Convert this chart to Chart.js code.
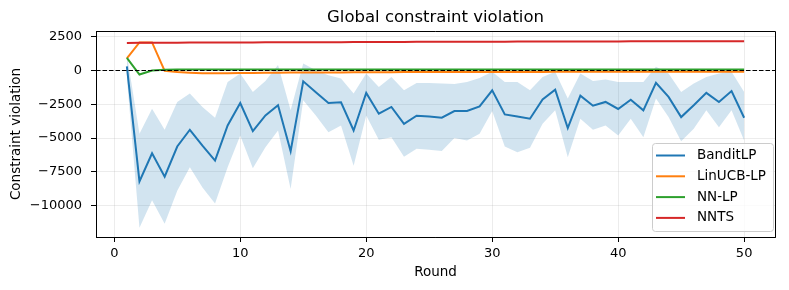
<!DOCTYPE html>
<html>
<head>
<meta charset="utf-8">
<script src="https://cdn.jsdelivr.net/npm/chart.js@4.4.1/dist/chart.umd.min.js"></script>
<style>
  html, body { margin: 0; padding: 0; background: #fff; }
  #wrap { width: 789px; height: 290px; }
</style>
</head>
<body>
<div id="wrap"><canvas id="chart" width="789" height="290"></canvas></div>
<script>
// data
const rounds = [1, 2, 3, 4, 5, 6, 7, 8, 9, 10, 11, 12, 13, 14, 15, 16, 17, 18, 19, 20,
  21, 22, 23, 24, 25, 26, 27, 28, 29, 30, 31, 32, 33, 34, 35, 36, 37, 38, 39, 40,
  41, 42, 43, 44, 45, 46, 47, 48, 49, 50];

const banditLP = [300, -8210, -6130, -7860, -5630, -4390, -5560, -6670, -4070, -2410,
  -4490, -3330, -2580, -5980, -800, -1610, -2410, -2360, -4440, -1660,
  -3200, -2700, -3950, -3350, -3400, -3500, -3000, -3000, -2660, -1470,
  -3250, -3400, -3570, -2140, -1420, -4270, -1870, -2610, -2330, -2850,
  -2160, -2950, -920, -1960, -3450, -2580, -1660, -2330, -1520, -3500];

const banditUpper = [1200, -4690, -2830, -4390, -2330, -1710, -2700, -3500, -850, -220,
  -1590, -770, 400, -2950, 520, 20, -350, -600, -1710, -220,
  -1220, -480, -1470, -920, -920, -970, -1000, -850, -550, -100,
  -850, -850, -1470, -480, -100, -2080, -220, -770, -670, -850,
  -850, -850, 270, -220, -1590, -970, -480, -220, -100, -1590];

const banditLower = [-500, -11640, -9600, -11340, -8900, -7170, -8660, -9850, -7170, -4810,
  -7240, -5680, -4440, -8780, -2210, -3330, -4570, -4070, -7050, -3330,
  -5130, -4940, -6380, -5800, -5870, -5960, -4990, -5190, -4690, -3000,
  -5630, -6050, -5730, -3950, -2950, -6430, -3570, -4390, -4070, -4810,
  -3570, -4940, -2080, -3450, -5240, -4320, -2950, -4200, -2950, -5190];

const linUCB = [890, 2080, 2080, -30, -120, -170, -200, -210, -200, -190,
  -180, -170, -160, -150, -150, -140, -140, -140, -130, -130,
  -130, -130, -120, -120, -120, -120, -120, -110, -110, -110,
  -110, -110, -110, -110, -100, -100, -100, -100, -100, -100,
  -100, -100, -100, -100, -100, -100, -100, -100, -100, -100];

const nnLP = [940, -300, 0, 60, 70, 70, 80, 70, 70, 80,
  70, 70, 80, 70, 70, 70, 80, 70, 70, 70,
  80, 70, 70, 70, 70, 80, 70, 70, 70, 70,
  70, 80, 70, 70, 70, 70, 70, 80, 70, 70,
  70, 70, 70, 70, 80, 70, 70, 70, 70, 70];

const nnts = [2040, 2050, 2055, 2060, 2060, 2065, 2070, 2070, 2075, 2080,
  2080, 2085, 2090, 2090, 2095, 2100, 2100, 2100, 2105, 2110,
  2110, 2115, 2115, 2120, 2120, 2125, 2125, 2130, 2130, 2135,
  2135, 2140, 2140, 2145, 2145, 2150, 2150, 2150, 2155, 2155,
  2160, 2160, 2160, 2165, 2165, 2165, 2170, 2170, 2170, 2170];

const seriesNames = ['BanditLP', 'LinUCB-LP', 'NN-LP', 'NNTS'];
const xTicks = [0, 10, 20, 30, 40, 50];
const yTicks = [2500, 0, -2500, -5000, -7500, -10000];

const colors = ['#1f77b4', '#ff7f0e', '#2ca02c', '#d62728'];
const FONT = "'DejaVu Sans', sans-serif";

function pts(arr) {
  return arr.map((v, i) => ({ x: rounds[i], y: v }));
}

function lineSet(label, arr, color) {
  return {
    label: label, data: pts(arr), borderColor: color, backgroundColor: color,
    borderWidth: 2, pointRadius: 0, tension: 0, fill: false
  };
}

// top/right spines, dashed zero line, legend
const extras = {
  id: 'extras',
  afterDatasetsDraw(chart) {
    const { ctx, chartArea, scales } = chart;
    ctx.save();
    const y0 = scales.y.getPixelForValue(0);
    ctx.strokeStyle = '#000';
    ctx.lineWidth = 1.2;
    ctx.setLineDash([4.5, 2]);
    ctx.beginPath();
    ctx.moveTo(chartArea.left, y0);
    ctx.lineTo(chartArea.right, y0);
    ctx.stroke();
    ctx.setLineDash([]);
    ctx.lineWidth = 1;
    ctx.beginPath();
    ctx.moveTo(chartArea.left, chartArea.top + 0.5);
    ctx.lineTo(chartArea.right + 0.5, chartArea.top + 0.5);
    ctx.lineTo(chartArea.right + 0.5, chartArea.bottom);
    ctx.stroke();

    // legend box
    const w = 121, h = 88;
    const lx = chartArea.right - w - 2, ly = chartArea.bottom - h - 6;
    ctx.fillStyle = 'rgba(255,255,255,0.8)';
    ctx.strokeStyle = '#cccccc';
    ctx.beginPath();
    ctx.roundRect(lx + 0.5, ly + 0.5, w, h, 3);
    ctx.fill();
    ctx.stroke();
    ctx.font = '13.5px ' + FONT;
    ctx.textBaseline = 'middle';
    ctx.textAlign = 'left';
    seriesNames.forEach((name, i) => {
      const ry = ly + 12.5 + i * 20.8;
      ctx.strokeStyle = colors[i];
      ctx.lineWidth = 2;
      ctx.beginPath();
      ctx.moveTo(lx + 4, ry);
      ctx.lineTo(lx + 33, ry);
      ctx.stroke();
      ctx.fillStyle = '#000';
      ctx.fillText(name, lx + 45, ry);
    });
    ctx.restore();
  }
};

const ctx = document.getElementById('chart').getContext('2d');
new Chart(ctx, {
  type: 'line',
  data: {
    datasets: [
      lineSet(seriesNames[3], nnts, colors[3]),
      lineSet(seriesNames[2], nnLP, colors[2]),
      lineSet(seriesNames[1], linUCB, colors[1]),
      lineSet(seriesNames[0], banditLP, colors[0]),
      {
        label: 'upper', data: pts(banditUpper), borderWidth: 0, pointRadius: 0,
        backgroundColor: 'rgba(31,119,180,0.2)', fill: '+1', tension: 0
      },
      {
        label: 'lower', data: pts(banditLower), borderWidth: 0, pointRadius: 0,
        backgroundColor: 'rgba(31,119,180,0.2)', fill: false, tension: 0
      }
    ]
  },
  options: {
    responsive: false,
    animation: false,
    devicePixelRatio: 1,
    layout: { padding: { left: 0, right: 14, top: 0, bottom: 0 } },
    plugins: {
      legend: { display: false },
      tooltip: { enabled: false },
      title: {
        display: true,
        fullSize: false,
        text: 'Global constraint violation',
        color: '#000',
        font: { family: FONT, size: 16.5, weight: 'normal' },
        padding: { top: 8, bottom: 3.2 }
      }
    },
    scales: {
      x: {
        type: 'linear',
        min: -1.45,
        max: 52.45,
        afterBuildTicks: (s) => { s.ticks = xTicks.map(v => ({ value: v })); },
        afterFit: (s) => { s.height = 53; },
        grid: { color: 'rgba(176,176,176,0.3)', lineWidth: 0.8, tickLength: 5, tickColor: '#000', tickWidth: 1 },
        border: { display: true, color: '#000', width: 1 },
        ticks: { color: '#000', padding: 4, maxRotation: 0, font: { family: FONT, size: 13 } },
        title: { display: true, text: 'Round', color: '#000', padding: { top: 0, bottom: 9 }, font: { family: FONT, size: 13.5 } }
      },
      y: {
        type: 'linear',
        min: -12330,
        max: 2924,
        afterBuildTicks: (s) => { s.ticks = yTicks.map(v => ({ value: v })); },
        afterFit: (s) => { s.width = 96; },
        grid: { color: 'rgba(176,176,176,0.3)', lineWidth: 0.8, tickLength: 5, tickColor: '#000', tickWidth: 1 },
        border: { display: true, color: '#000', width: 1 },
        ticks: {
          color: '#000', padding: 9, font: { family: FONT, size: 13 },
          callback: (v) => String(v).replace('-', '\u2212')
        },
        title: { display: true, text: 'Constraint violation', color: '#000', padding: { top: 8, bottom: 0 }, font: { family: FONT, size: 13.5 } }
      }
    }
  },
  plugins: [extras]
});
</script>
</body>
</html>
